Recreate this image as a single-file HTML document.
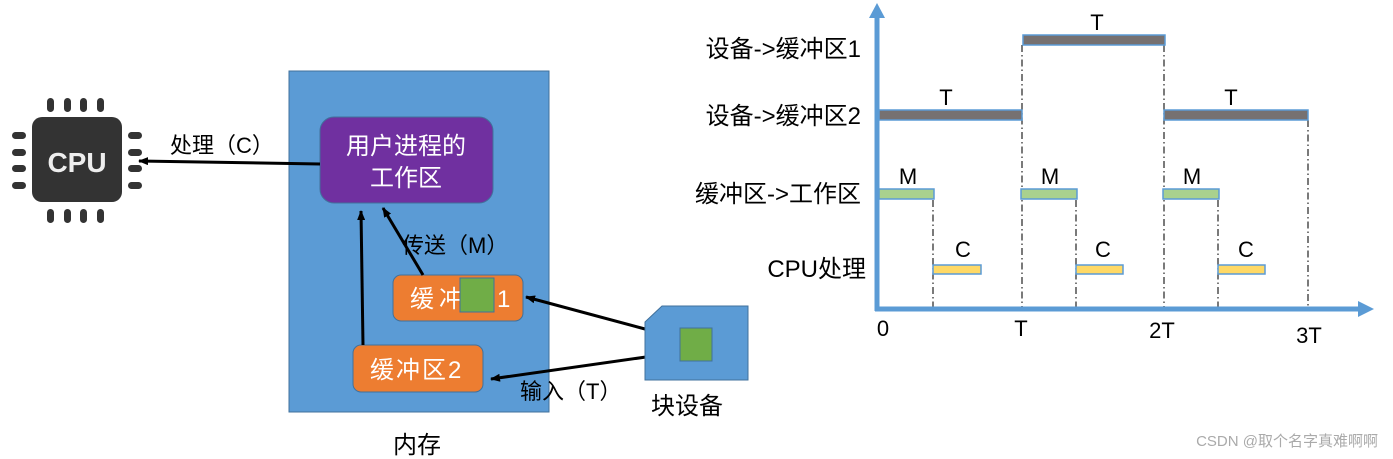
<!DOCTYPE html>
<html><head><meta charset="utf-8"><style>
html,body{margin:0;padding:0;background:#fff;}
svg{display:block;}
text{font-family:"Liberation Sans","Noto Sans CJK SC",sans-serif;}
</style></head><body>
<svg width="1393" height="459" viewBox="0 0 1393 459" xmlns="http://www.w3.org/2000/svg">
<defs>
<marker id="ah" markerWidth="10" markerHeight="8" refX="9" refY="4" orient="auto" markerUnits="userSpaceOnUse">
<path d="M0,0 L10,4 L0,8 Z" fill="#000"/></marker>
</defs>
<!-- CPU -->
<g fill="#333">
<rect x="32" y="117" width="90" height="85" rx="10"/>
<rect x="47" y="98" width="7" height="14" rx="3.5"/><rect x="64" y="98" width="7" height="14" rx="3.5"/><rect x="80" y="98" width="7" height="14" rx="3.5"/><rect x="97" y="98" width="7" height="14" rx="3.5"/>
<rect x="47" y="209" width="7" height="14" rx="3.5"/><rect x="64" y="209" width="7" height="14" rx="3.5"/><rect x="80" y="209" width="7" height="14" rx="3.5"/><rect x="97" y="209" width="7" height="14" rx="3.5"/>
<rect x="12" y="132" width="14" height="7" rx="3.5"/><rect x="12" y="149" width="14" height="7" rx="3.5"/><rect x="12" y="165" width="14" height="7" rx="3.5"/><rect x="12" y="182" width="14" height="7" rx="3.5"/>
<rect x="128" y="132" width="14" height="7" rx="3.5"/><rect x="128" y="149" width="14" height="7" rx="3.5"/><rect x="128" y="165" width="14" height="7" rx="3.5"/><rect x="128" y="182" width="14" height="7" rx="3.5"/>
</g>
<text x="77" y="172" font-size="28" font-weight="bold" fill="#eee" text-anchor="middle">CPU</text>
<!-- memory -->
<rect x="289" y="71" width="260" height="341" fill="#5B9BD5" stroke="#41719C" stroke-width="1"/>
<rect x="320" y="117" width="173" height="86" rx="14" fill="#7030A0" stroke="#41719C"/>
<text x="406" y="154" font-size="24" fill="#fff" text-anchor="middle">用户进程的</text>
<text x="406" y="186" font-size="24" fill="#fff" text-anchor="middle">工作区</text>
<rect x="393" y="275" width="130" height="46" rx="8" fill="#ED7D31" stroke="#41719C"/>
<text x="410" y="307" font-size="24" fill="#fff" letter-spacing="5">缓冲区1</text>
<rect x="460" y="278" width="34" height="34" fill="#70AD47" stroke="#41719C"/>
<rect x="353" y="345" width="130" height="47" rx="8" fill="#ED7D31" stroke="#41719C"/>
<text x="370" y="378" font-size="24" fill="#fff" letter-spacing="2">缓冲区2</text>
<!-- arrows -->
<line x1="320" y1="164" x2="139" y2="161" stroke="#000" stroke-width="3" marker-end="url(#ah)"/>
<text x="170" y="153" font-size="22" fill="#000">处理（C）</text>
<line x1="423" y1="275" x2="383" y2="208" stroke="#000" stroke-width="3" marker-end="url(#ah)"/>
<line x1="363" y1="345" x2="361" y2="211" stroke="#000" stroke-width="3" marker-end="url(#ah)"/>
<text x="402" y="253" font-size="22" fill="#000">传送（M）</text>
<line x1="645" y1="329" x2="526" y2="297" stroke="#000" stroke-width="3" marker-end="url(#ah)"/>
<line x1="646" y1="357" x2="491" y2="379" stroke="#000" stroke-width="3" marker-end="url(#ah)"/>
<text x="520" y="399" font-size="22" fill="#000">输入（T）</text>
<path d="M645,322 L662,306 L748,306 L748,380 L645,380 Z" fill="#5B9BD5" stroke="#41719C"/>
<rect x="680" y="328" width="32" height="33" fill="#70AD47" stroke="#41719C"/>
<text x="651" y="414" font-size="24" fill="#000">块设备</text>
<text x="393" y="453" font-size="24" fill="#000">内存</text>
<!-- chart dashed -->
<g stroke="#333" stroke-width="1.3" stroke-dasharray="7,3,1.5,3">
<line x1="1022" y1="45" x2="1022" y2="309"/>
<line x1="1164" y1="45" x2="1164" y2="309"/>
<line x1="1308" y1="120" x2="1308" y2="309"/>
<line x1="933" y1="200" x2="933" y2="309"/>
<line x1="1076" y1="200" x2="1076" y2="309"/>
<line x1="1218" y1="200" x2="1218" y2="309"/>
</g>
<!-- bars -->
<g stroke="#5B9BD5" stroke-width="1.5">
<rect x="1023" y="35" width="142" height="10" fill="#767171"/>
<rect x="879" y="110" width="143" height="10" fill="#767171"/>
<rect x="1164" y="110" width="144" height="10" fill="#767171"/>
<rect x="879" y="189" width="55" height="10" fill="#A9D18E"/>
<rect x="1021" y="189" width="56" height="10" fill="#A9D18E"/>
<rect x="1163" y="189" width="56" height="10" fill="#A9D18E"/>
<rect x="933" y="265" width="48" height="9" fill="#FFD966"/>
<rect x="1076" y="265" width="47" height="9" fill="#FFD966"/>
<rect x="1218" y="265" width="47" height="9" fill="#FFD966"/>
</g>
<!-- axes -->
<line x1="877" y1="15" x2="877" y2="311" stroke="#5B9BD5" stroke-width="5"/>
<line x1="875" y1="309" x2="1360" y2="309" stroke="#5B9BD5" stroke-width="5"/>
<path d="M869,18 L877,3 L885,18 Z" fill="#5B9BD5"/>
<path d="M1358,301 L1374,309 L1358,317 Z" fill="#5B9BD5"/>
<g font-size="22" fill="#000" text-anchor="middle">
<text x="1097" y="30">T</text><text x="946" y="105">T</text><text x="1231" y="105">T</text>
<text x="908" y="184">M</text><text x="1050" y="184">M</text><text x="1192" y="184">M</text>
<text x="963" y="257">C</text><text x="1103" y="257">C</text><text x="1246" y="257">C</text>
<text x="883" y="336">0</text><text x="1021" y="336">T</text><text x="1162" y="338">2T</text><text x="1309" y="343">3T</text>
</g>
<g font-size="24" fill="#000" text-anchor="end">
<text x="861" y="57">设备-&gt;缓冲区1</text>
<text x="861" y="124">设备-&gt;缓冲区2</text>
<text x="861" y="202">缓冲区-&gt;工作区</text>
<text x="866" y="277">CPU处理</text>
</g>
<text x="1378" y="446" font-size="15" fill="#aaa" text-anchor="end">CSDN @取个名字真难啊啊</text>
</svg>
</body></html>
